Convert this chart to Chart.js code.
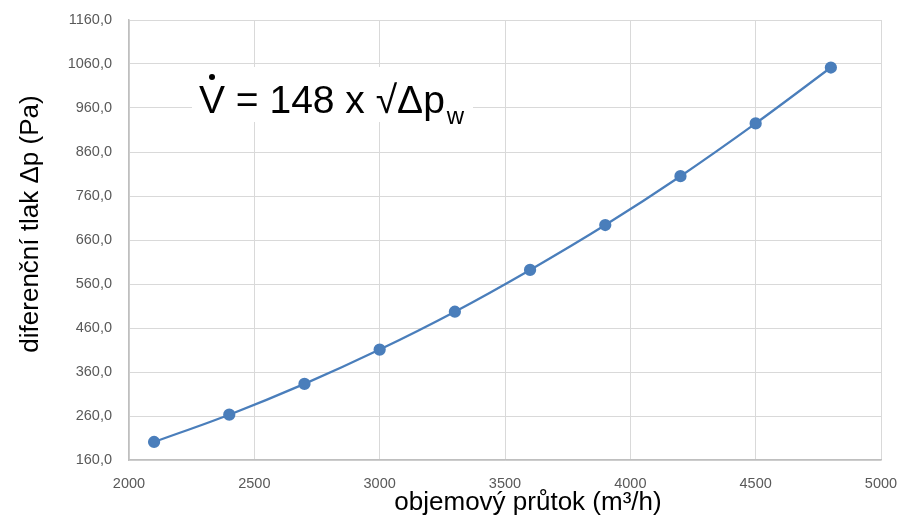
<!DOCTYPE html>
<html><head><meta charset="utf-8">
<script src="https://cdn.jsdelivr.net/npm/chart.js@4"></script>
<style>html,body{margin:0;padding:0;background:#fff}#wrap{width:901px;height:518px}</style>
</head><body><div id="wrap"><canvas id="c" width="901" height="518"></canvas></div>
<script>
const flowRates = [2100, 2400, 2700, 3000, 3300, 3600, 3900, 4200, 4500, 4800];
const pressures = [201, 263, 333, 411, 497, 592, 694, 805, 925, 1052];
const xTitle = 'objemový průtok (m³/h)';
const yTitle = 'diferenční tlak Δp (Pa)';

const titlesPlugin = {
  id: 'titles',
  afterDraw(chart) {
    const {ctx, chartArea: a} = chart;
    ctx.save();
    ctx.fillStyle = '#000';
    ctx.font = '26px "Liberation Sans", Arial, sans-serif';
    ctx.textAlign = 'center';
    ctx.textBaseline = 'middle';
    ctx.fillText(xTitle, 528, a.bottom + 43);
    ctx.translate(31, 224);
    ctx.rotate(-Math.PI / 2);
    ctx.fillText(yTitle, 0, 0);
    ctx.restore();
    // formula annotation
    ctx.save();
    const bx = 192, by = 67, bw = 281, bh = 55;
    ctx.fillStyle = '#fff';
    ctx.fillRect(bx, by, bw, bh);
    ctx.fillStyle = '#000';
    ctx.font = '39px "Liberation Sans", Arial, sans-serif';
    ctx.textBaseline = 'alphabetic';
    ctx.textAlign = 'left';
    const base = 113;
    let x = 199;
    ctx.fillText('V', x, base);
    const vw = ctx.measureText('V').width;
    ctx.beginPath();
    ctx.arc(x + vw / 2, base - 36, 3, 0, Math.PI * 2);
    ctx.fill();
    x += vw;
    const main = ' = 148 x √Δp';
    ctx.fillText(main, x, base);
    x += ctx.measureText(main).width + 2;
    ctx.font = '24px "Liberation Sans", Arial, sans-serif';
    ctx.fillText('w', x, base + 11);
    ctx.restore();
  }
};

new Chart(document.getElementById('c'), {
  type: 'line',
  data: {
    datasets: [{
      data: flowRates.map((v, i) => ({x: v, y: pressures[i]})),
      borderColor: '#4a7ebb',
      backgroundColor: '#4a7ebb',
      borderWidth: 2.25,
      pointRadius: 5,
      pointHoverRadius: 5,
      tension: 0.4,
      cubicInterpolationMode: 'monotone',
      fill: false
    }]
  },
  options: {
    responsive: false,
    animation: false,
    layout: {padding: {left: 0, right: 20, top: 20, bottom: 0}},
    plugins: {legend: {display: false}, tooltip: {enabled: false}},
    scales: {
      x: {
        type: 'linear', min: 2000, max: 5000,
        ticks: {stepSize: 500, color: '#595959', padding: 15,
          font: {family: '"Liberation Sans", Arial, sans-serif', size: 14.5},
          maxRotation: 0, callback: v => String(v)},
        grid: {color: '#d9d9d9', drawTicks: false},
        border: {color: '#bfbfbf', width: 1.5},
        afterFit(s) { s.height = 58; s.paddingLeft = 0; s.paddingRight = 0; }
      },
      y: {
        min: 160, max: 1160,
        ticks: {stepSize: 100, color: '#595959', padding: 17,
          font: {family: '"Liberation Sans", Arial, sans-serif', size: 14.5},
          callback: v => v.toFixed(1).replace('.', ',')},
        grid: {color: '#d9d9d9', drawTicks: false},
        border: {color: '#bfbfbf', width: 1.5},
        afterFit(s) { s.width = 129; s.paddingTop = 0; s.paddingBottom = 0; }
      }
    }
  },
  plugins: [titlesPlugin]
});
</script></body></html>
